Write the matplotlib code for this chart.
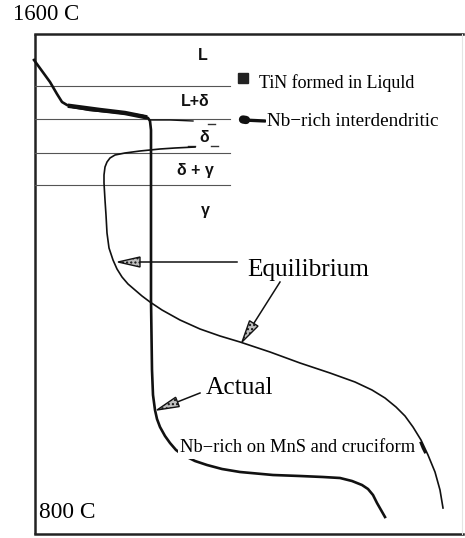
import matplotlib
matplotlib.use("Agg")
import matplotlib.pyplot as plt
from matplotlib.patches import Polygon, Rectangle
import numpy as np

# phase field boundaries (pixel rows) and labels
phase_lines = [86, 119, 153, 185]
phase_labels = ["L", "L+δ", "δ", "δ + γ", "γ"]
phase_label_x = [203, 195, 204, 195, 205]
phase_label_y = [55, 102, 137, 170, 210]

# solidification paths (x, y in pixels)
actual_x = [34, 42, 50, 57, 62, 67, 73, 90, 113, 130, 143, 148, 150, 151, 151, 151, 152,
            153, 155, 157, 160, 165, 170, 176, 183, 195, 207, 222, 240, 273, 300, 323,
            340, 352, 362, 368, 373, 377, 381, 385]
actual_y = [60, 71, 82, 94, 102, 105, 107, 110, 112, 114, 116, 118, 121, 130, 200, 300, 370,
            395, 410, 419, 427, 436, 443, 450, 455, 461, 465, 469, 472, 475, 476, 477,
            478, 481, 485, 489, 495, 503, 510, 517]

equil_x = [195, 175, 160, 140, 125, 115, 110, 107, 105, 104, 104, 105, 106, 107, 109, 113,
           117, 122, 128, 135, 142, 150, 162, 180, 200, 220, 240, 270, 300, 330, 355, 372,
           385, 396, 405, 413, 421, 428, 435, 440, 443]
equil_y = [147, 148, 149, 151, 153, 155, 158, 162, 167, 175, 183, 200, 215, 233, 248, 260,
           269, 277, 284, 290, 296, 302, 310, 320, 329, 336, 342, 352, 363, 373, 382, 390,
           398, 407, 416, 427, 440, 455, 472, 490, 508]

# annotation arrows: (tail, tip)
arrows = [((237, 262), (118, 262)),
          ((280, 282), (242, 342)),
          ((200, 393), (157, 410))]

fig = plt.figure(figsize=(4.65, 5.38), dpi=100)
ax = fig.add_axes([0, 0, 1, 1])
ax.set_xlim(0, 465)
ax.set_ylim(538, 0)
ax.axis("off")

serif = "Liberation Serif"
sans = "Liberation Sans"

# frame
ax.plot([35, 35], [34, 534], color="#222222", lw=1.8, solid_capstyle="butt")
ax.plot([35, 463], [34, 34], color="#222222", lw=1.8)
ax.plot([35, 463], [534, 534], color="#222222", lw=1.8)
ax.plot([462, 462], [34, 534], color="#e4e4e4", lw=0.8)

for y in phase_lines:
    ax.plot([35, 230], [y, y], color="#555555", lw=0.8)

for lab, x, y in zip(phase_labels, phase_label_x, phase_label_y):
    ax.text(x, y, lab, fontsize=11.5, fontweight="bold", family=sans,
            ha="center", va="center", color="#111111")
# little dashes around delta
for (x0, x1, y) in [(188, 195, 146), (211, 218, 146), (208, 215, 124)]:
    ax.plot([x0, x1], [y, y], color="#333333", lw=1.0)

ax.plot(equil_x, equil_y, color="#111111", lw=1.2, solid_joinstyle="round")
ax.plot(actual_x, actual_y, color="#111111", lw=1.9, solid_joinstyle="round")
# smeared thick part of actual path and its thin tail
ax.plot([70, 100, 125, 145], [106, 110, 113, 117], color="#111111", lw=3.2)
ax.plot([150, 170, 193], [120, 120, 121], color="#111111", lw=1.0)

for (tx, ty), (hx, hy) in arrows:
    d = np.array([hx - tx, hy - ty], dtype=float)
    d /= np.hypot(*d)
    n = np.array([-d[1], d[0]])
    base = np.array([hx, hy]) - 22 * d
    ax.plot([tx, base[0]], [ty, base[1]], color="#111111", lw=1.1)
    tri = [(hx, hy), tuple(base + 5 * n), tuple(base - 5 * n)]
    ax.add_patch(Polygon(tri, closed=True, facecolor="#bdbdbd", edgecolor="#111111",
                         lw=1.0, hatch="....", zorder=3))

ax.text(247, 270, "Equilibrium", fontsize=18.2, family=serif, va="center", ha="left")
ax.text(206, 388, "Actual", fontsize=18.3, family=serif, va="center", ha="left")

# legend items
ax.add_patch(Rectangle((238, 73), 10, 10, facecolor="#222222", edgecolor="#222222"))
ax.text(259, 83, "TiN formed in Liquld", fontsize=13, family=serif, va="center",
        ha="left", bbox=dict(facecolor="white", edgecolor="none", pad=0.5))
ax.plot([243, 265], [120, 121], color="#111111", lw=2.4, solid_capstyle="round")
ax.plot([243, 246], [119.5, 120], color="#111111", lw=6, solid_capstyle="round")
ax.text(267, 122, "Nb−rich interdendritic", fontsize=13.8, family=serif, va="center",
        ha="left", bbox=dict(facecolor="white", edgecolor="none", pad=0.5))

ax.text(180, 448, "Nb−rich on MnS and cruciform", fontsize=13.3, family=serif,
        va="center", ha="left", zorder=4,
        bbox=dict(facecolor="white", edgecolor="none", pad=1.5))
ax.plot([421, 423, 425], [443, 448, 452], color="#111111", lw=2.0, zorder=5)

ax.text(13, 15, "1600 C", fontsize=16.4, family=serif, va="center", ha="left")
ax.text(39, 512, "800 C", fontsize=16.8, family=serif, va="center", ha="left")

fig.savefig("out.png", dpi=100)
